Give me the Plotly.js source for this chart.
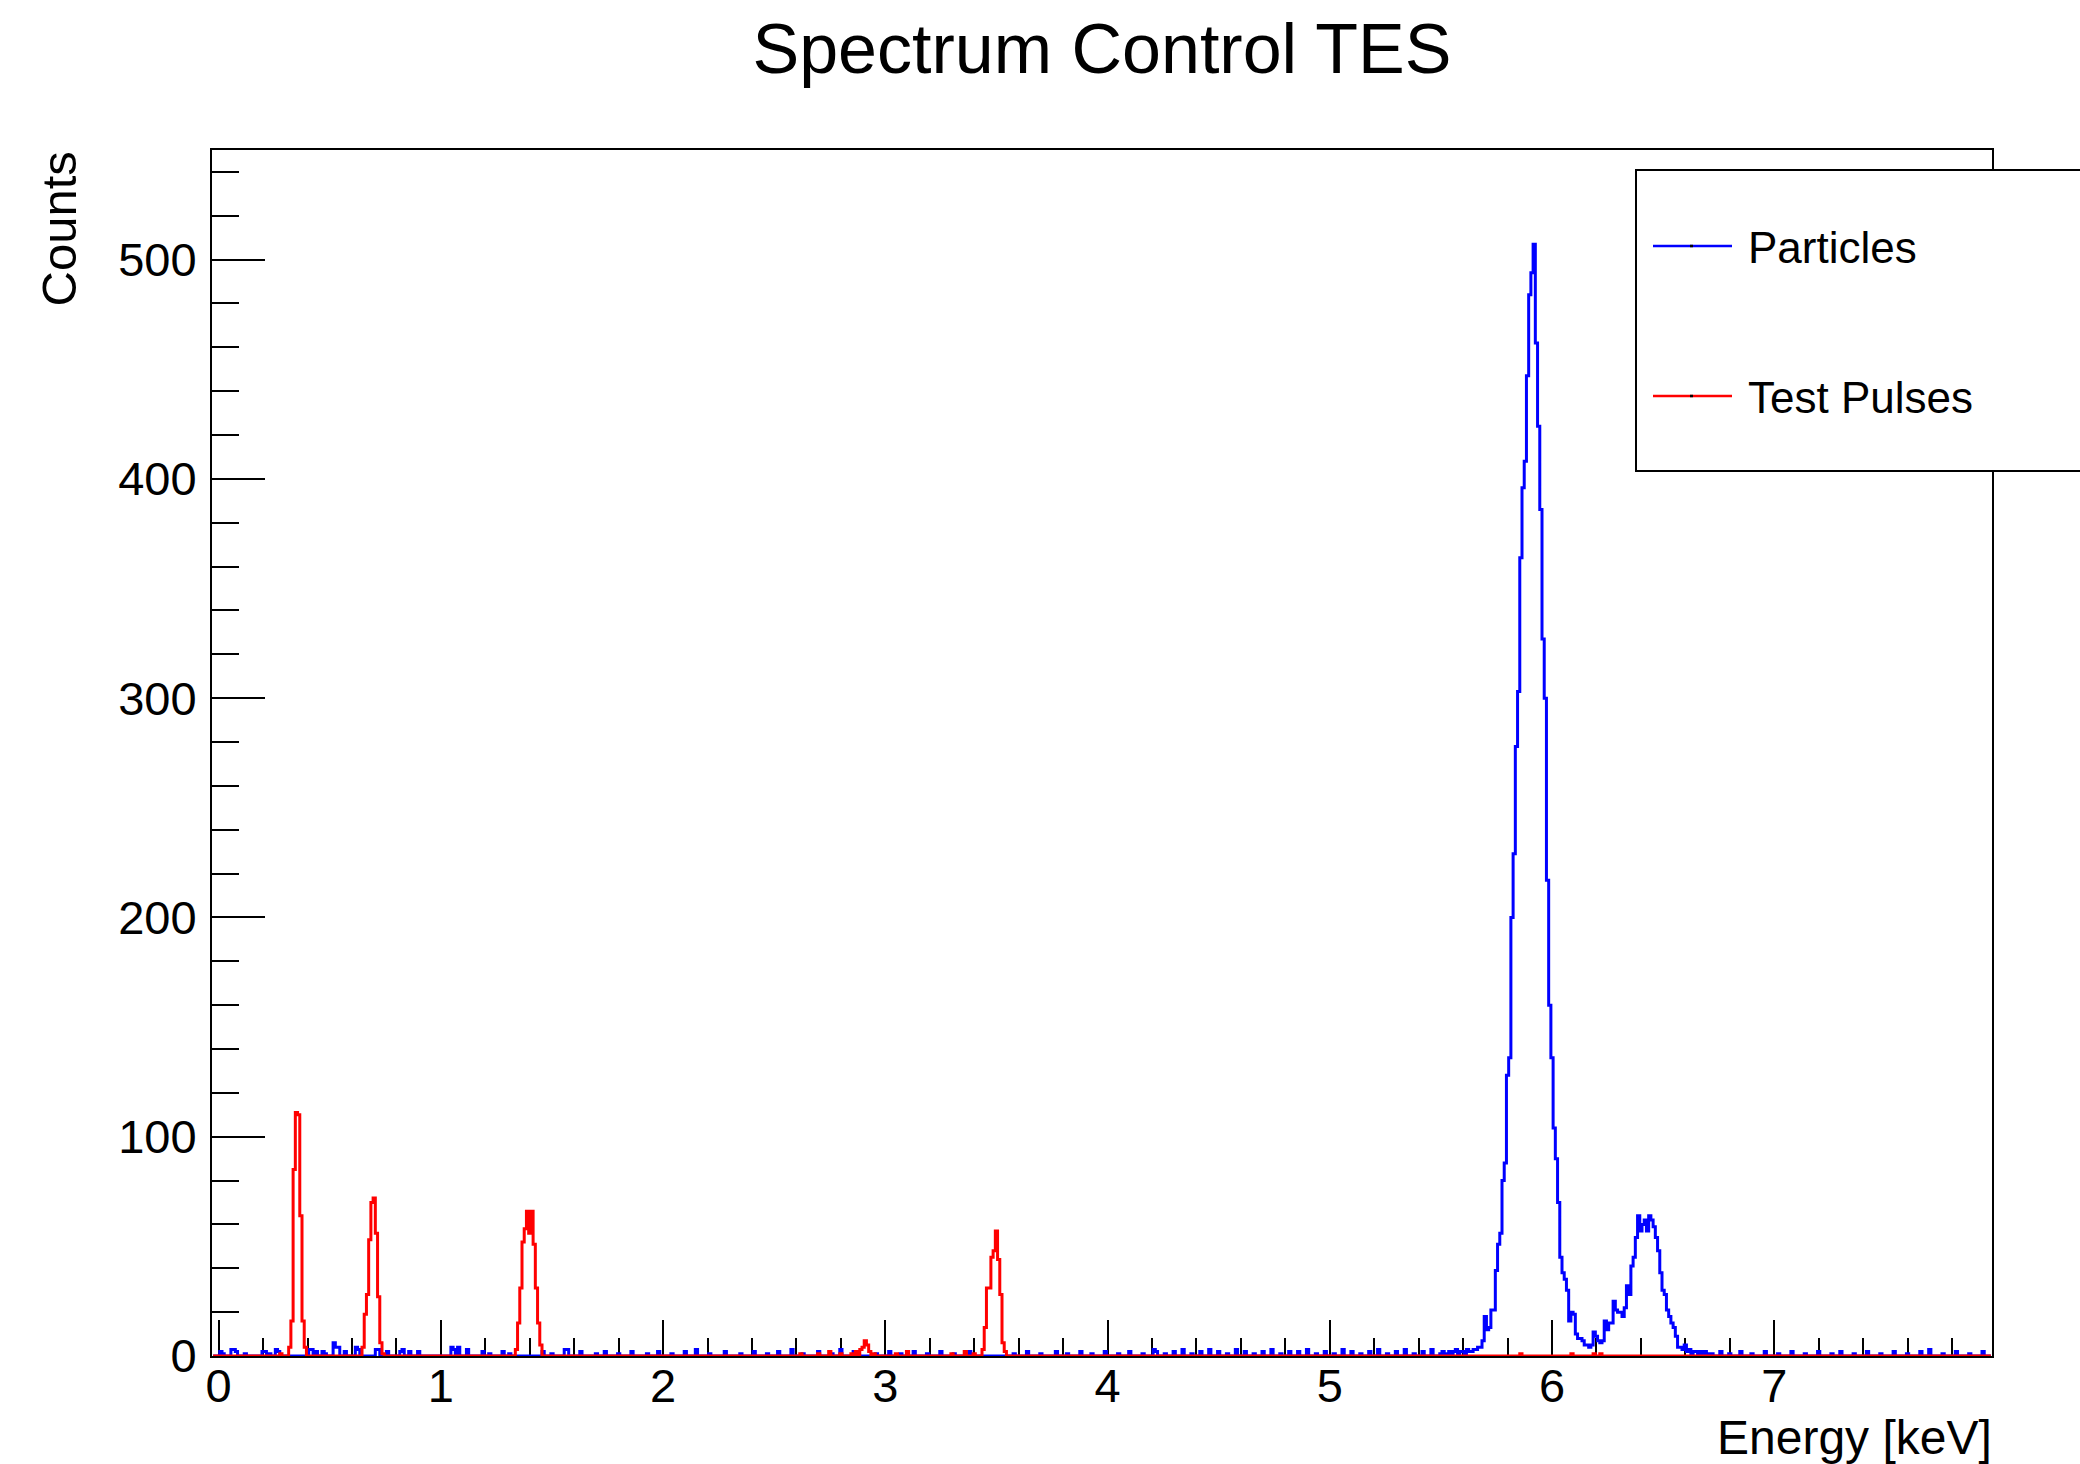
<!DOCTYPE html>
<html><head><meta charset="utf-8">
<script src="https://cdn.plot.ly/plotly-3.0.1.min.js"></script>
<style>html,body{margin:0;padding:0;background:#fff}#chart{width:2080px;height:1464px}</style>
</head><body><div id="chart"></div>
<script>
// ---- histogram binning (keV) ----
const binWidth = 0.01;
const histLow = -0.025;
const nBins = 800;

// ---- Particles (blue): contiguous region 5.50 .. 6.70 keV ----
const particlesPeakStart = 5.50;
const particlesPeak = [
  1,2,1,0,2,1,2,3,1,2,2,1,3,2,2,3,
  3,4,4,7,18,12,13,21,21,39,51,56,80,88,
  128,136,200,229,278,303,364,396,408,447,484,494,507,
  462,424,386,327,300,217,160,136,104,90,70,45,38,35,30,16,20,19,10,
  8,8,7,5,5,4,5,11,9,7,6,7,
  16,12,15,15,25,21,20,20,18,22,32,28,41,45,54,64,57,60,62,57,64,62,59,54,48,38,30,28,21,18,15,13,9,4,4,
  3,5,2,3,1,2,2,1,2,1,2,1
];
// ---- Particles (blue): sparse low background elsewhere ----
const particlesBgE = [0.01,0.02,0.06,0.07,0.08,0.12,0.20,0.21,0.23,0.26,0.27,0.41,0.42,0.44,0.47,0.48,0.52,0.53,0.54,0.57,0.62,0.63,0.71,0.72,0.76,0.82,0.83,0.86,0.90,
  1.05,1.06,1.08,1.12,1.19,1.22,1.28,1.31,1.46,1.50,1.56,1.57,1.63,1.70,1.74,1.80,1.86,1.93,1.98,
  2.04,2.10,2.15,2.21,2.28,2.35,2.41,2.47,2.52,2.58,2.63,2.70,2.76,2.80,2.86,2.96,
  3.02,3.07,3.13,3.19,3.25,3.31,3.38,3.58,3.64,3.70,3.77,3.82,3.88,3.93,3.99,
  4.05,4.10,4.16,4.21,4.22,4.26,4.30,4.34,4.38,4.42,4.46,4.50,4.54,4.58,4.62,4.66,4.70,4.74,4.78,4.82,4.86,4.90,4.94,4.98,
  5.02,5.06,5.10,5.14,5.18,5.22,5.26,5.30,5.34,5.38,5.42,5.46,
  6.72,6.76,6.80,6.85,6.90,6.96,7.02,7.08,7.14,7.20,7.26,7.30,7.36,7.42,7.48,7.54,7.60,7.66,7.70,7.76,7.82,7.88,7.94];
const particlesBgC = [2,1,3,3,2,1,2,2,1,3,2,3,3,2,2,1,6,4,4,2,4,3,3,3,2,2,3,2,2,
  4,3,4,3,2,1,2,1,2,1,3,3,2,1,2,1,2,1,2,
  1,2,3,1,2,1,2,1,2,3,1,2,1,3,2,1,
  2,1,2,1,2,1,2,1,2,1,2,1,2,1,2,
  1,2,1,3,2,1,2,3,1,2,3,2,1,3,2,1,2,3,1,2,2,3,1,2,
  1,3,2,1,2,3,1,2,3,1,2,3,
  1,2,1,2,1,2,1,2,1,2,1,2,1,2,1,2,1,2,3,1,2,1,2];

// ---- Test Pulses (red): peak groups ----
const pulseStarts = [0.32, 0.65, 1.34, 2.85, 3.44];
const pulse1 = [4,16,85,111,110,64,16,4];
const pulse2 = [4,19,28,53,70,72,56,27,6,1];
const pulse3 = [3,15,31,52,58,66,56,66,51,31,15,5];
const pulse4 = [1,0,2,0,3,4,7,5,2,0,1];
const pulse5 = [3,13,31,31,45,48,57,44,28,6,2];
const pulseNoiseE = [0.28,2.62,2.70,2.75,2.80,3.05,3.10,3.30,3.36,3.40,5.86,6.09,6.19,6.22];
const pulseNoiseC = [1,1,1,2,1,1,2,1,2,1,1,1,1,1];

// ---- build histograms ----
function binIndex(e){ return Math.round((e - histLow)/binWidth - 0.5); }
function emptyHist(){ return new Array(nBins).fill(0); }
const particles = emptyHist();
particlesPeak.forEach((c,i)=>{ particles[binIndex(particlesPeakStart + i*binWidth)] = c; });
particlesBgE.forEach((e,i)=>{ particles[binIndex(e)] = particlesBgC[i]; });
const pulses = emptyHist();
[pulse1,pulse2,pulse3,pulse4,pulse5].forEach((arr,k)=>{
  arr.forEach((c,i)=>{ pulses[binIndex(pulseStarts[k] + i*binWidth)] = c; });
});
pulseNoiseE.forEach((e,i)=>{ pulses[binIndex(e)] = pulseNoiseC[i]; });

const edges = [];
for (let i=0;i<=nBins;i++) edges.push(+(histLow + i*binWidth).toFixed(4));
const stepY = h => h.concat([h[h.length-1]]);

const FONT = 'Liberation Sans, Arial, Helvetica, sans-serif';

const traces = [
  {x: edges, y: stepY(particles), type:'scatter', mode:'lines', name:'Particles',
   line:{shape:'hv', color:'#0000ff', width:3}, showlegend:false, hoverinfo:'x+y'},
  {x: edges, y: stepY(pulses), type:'scatter', mode:'lines', name:'Test Pulses',
   line:{shape:'hv', color:'#ff0000', width:3}, showlegend:false, hoverinfo:'x+y'}
];

// plot frame in px: left 212, right 1992, top 150, bottom 1356
const px2x = p => (p-212)/1780;
const px2y = p => (1356-p)/1206;

const layout = {
  width:2080, height:1464,
  margin:{l:212, r:88, t:150, b:108, autoexpand:false},
  paper_bgcolor:'#fff', plot_bgcolor:'#fff',
  font:{family:FONT, color:'#000'},
  title:{text:'Spectrum Control TES', font:{size:70, family:FONT, color:'#000'},
         xref:'paper', x:0.5, xanchor:'center', yref:'container', y:1-48/1464, yanchor:'middle'},
  xaxis:{range:[-0.03,7.98], showline:true, linewidth:2, linecolor:'#000', mirror:true,
         ticks:'inside', ticklen:36, tickwidth:2, tickcolor:'#000', tick0:0, dtick:1,
         minor:{dtick:0.2, tick0:0, ticks:'inside', ticklen:18, tickwidth:2, tickcolor:'#000', showgrid:false},
         showgrid:false, zeroline:false, layer:'below traces',
         tickfont:{size:47, family:FONT, color:'#000'}, ticklabelstandoff:-12},
  yaxis:{range:[0,550], showline:true, linewidth:2, linecolor:'#000', mirror:true,
         ticks:'inside', ticklen:53, tickwidth:2, tickcolor:'#000', tick0:0, dtick:100,
         minor:{dtick:20, tick0:0, ticks:'inside', ticklen:27, tickwidth:2, tickcolor:'#000', showgrid:false},
         showgrid:false, zeroline:false, layer:'below traces',
         tickfont:{size:47, family:FONT, color:'#000'}, ticklabelstandoff:4},
  shapes:[
    {type:'rect', xref:'paper', yref:'paper', x0:px2x(1636), x1:px2x(2110), y0:px2y(471), y1:px2y(170),
     line:{color:'#000', width:2}, fillcolor:'#fff', layer:'above'},
    {type:'line', xref:'paper', yref:'paper', x0:px2x(1653), x1:px2x(1732), y0:px2y(246), y1:px2y(246),
     line:{color:'#0000ff', width:2.5}, layer:'above'},
    {type:'line', xref:'paper', yref:'paper', x0:px2x(1653), x1:px2x(1732), y0:px2y(396), y1:px2y(396),
     line:{color:'#ff0000', width:2.5}, layer:'above'},
    {type:'line', xref:'paper', yref:'paper', x0:px2x(1690), x1:px2x(1693), y0:px2y(246), y1:px2y(246),
     line:{color:'#000', width:2.5}, layer:'above'},
    {type:'line', xref:'paper', yref:'paper', x0:px2x(1690), x1:px2x(1693), y0:px2y(396), y1:px2y(396),
     line:{color:'#000', width:2.5}, layer:'above'}
  ],
  annotations:[
    {text:'Particles', xref:'paper', yref:'paper', x:px2x(1746), y:px2y(248), xanchor:'left', yanchor:'middle',
     showarrow:false, font:{size:44, family:FONT, color:'#000'}},
    {text:'Test Pulses', xref:'paper', yref:'paper', x:px2x(1746), y:px2y(397), xanchor:'left', yanchor:'middle',
     showarrow:false, font:{size:44, family:FONT, color:'#000'}},
    {text:'Energy [keV]', xref:'paper', yref:'paper', x:1, y:px2y(1464), xanchor:'right', yanchor:'bottom',
     showarrow:false, borderpad:0, borderwidth:0, font:{size:48, family:FONT, color:'#000'}},
    {text:'Counts', xref:'paper', yref:'paper', x:px2x(58), y:1, xanchor:'center', yanchor:'top', textangle:-90,
     showarrow:false, font:{size:49, family:FONT, color:'#000'}}
  ]
};

Plotly.newPlot('chart', traces, layout, {staticPlot:true, displayModeBar:false});
</script>
</body></html>
